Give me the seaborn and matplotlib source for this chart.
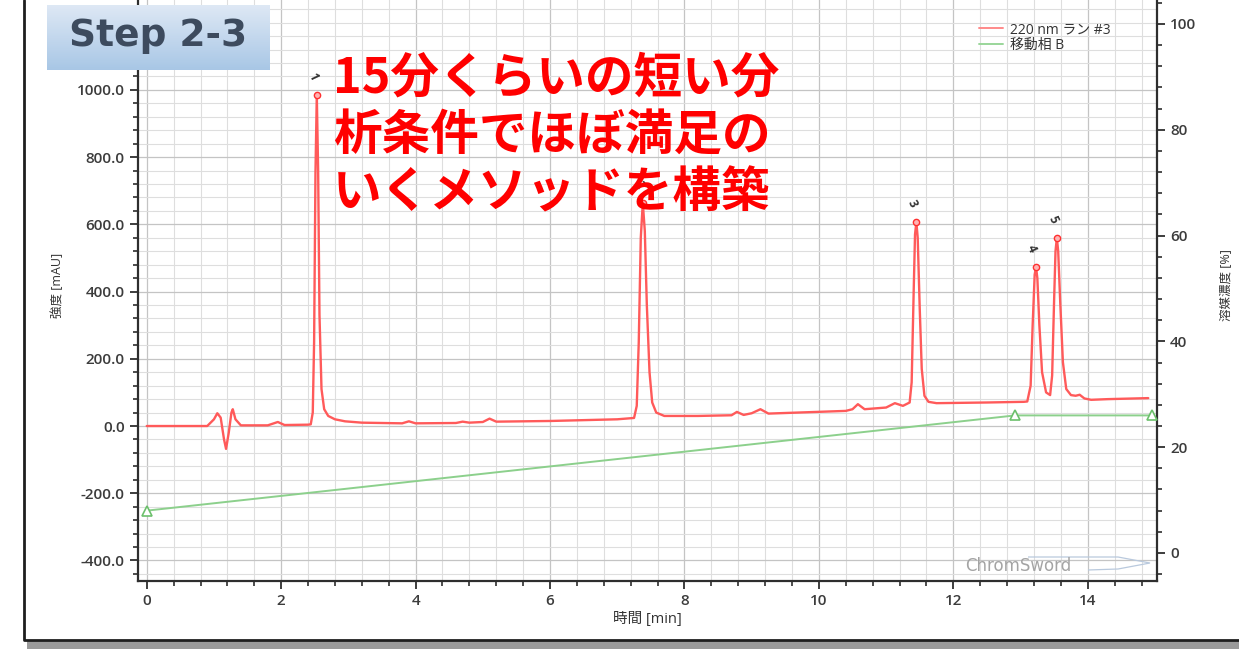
import matplotlib
matplotlib.use("Agg")
import numpy as np
import pandas as pd
import matplotlib.pyplot as plt
import seaborn as sns
from matplotlib.ticker import MultipleLocator, FormatStrFormatter
from matplotlib.patches import Rectangle, Polygon
from matplotlib.lines import Line2D

# ============================
# Datos leídos del cromatograma
# ============================
uv_time = [0.0, 0.9, 1.0, 1.05, 1.1, 1.15, 1.18, 1.22, 1.26, 1.28, 1.32, 1.4,
           1.8, 1.95, 2.05, 2.4, 2.44, 2.47, 2.49, 2.51, 2.53, 2.55, 2.57,
           2.6, 2.64, 2.7, 2.8, 2.95, 3.2, 3.8, 3.9, 4.0, 4.6, 4.7, 4.8, 5.0,
           5.1, 5.2, 6.0, 7.0, 7.25, 7.29, 7.32, 7.35, 7.38, 7.41, 7.44, 7.48,
           7.52, 7.58, 7.7, 8.2, 8.7, 8.78, 8.88, 9.0, 9.13, 9.25, 10.4, 10.5,
           10.58, 10.68, 11.0, 11.13, 11.25, 11.35, 11.38, 11.41, 11.43, 11.45,
           11.47, 11.5, 11.53, 11.57, 11.63, 11.75, 12.5, 13.05, 13.1, 13.15,
           13.18, 13.21, 13.23, 13.25, 13.28, 13.32, 13.38, 13.44, 13.47, 13.5,
           13.52, 13.54, 13.56, 13.59, 13.63, 13.68, 13.75, 13.82, 13.88,
           13.95, 14.05, 14.3, 14.9]
uv_mau = [0, 0, 20, 38, 25, -40, -68, -20, 40, 50, 20, 2,
          2, 12, 3, 4, 5, 40, 250, 750, 985, 760, 330,
          110, 50, 30, 20, 14, 10, 8, 14, 8, 9, 13, 10, 12,
          22, 13, 15, 20, 24, 60, 250, 560, 664, 580, 360, 160,
          70, 40, 30, 30, 32, 42, 33, 38, 50, 37, 45, 50,
          65, 50, 55, 68, 60, 70, 130, 400, 570, 607,
          560, 350, 170, 90, 72, 68, 70, 72, 73, 120,
          300, 450, 473, 440, 300, 160, 100, 92, 150, 380,
          520, 560, 520, 370, 190, 110, 92, 90, 93,
          82, 78, 80, 83]

peak_id = ["1", "2", "3", "4", "5"]
peak_time = [2.53, 7.38, 11.45, 13.23, 13.54]
peak_mau = [985, 664, 607, 473, 560]

grad_time = [0.0, 12.92, 14.95]
grad_b = [8.0, 26.0, 26.0]

uv = pd.DataFrame({"t": uv_time, "mau": uv_mau})
grad = pd.DataFrame({"t": grad_time, "b": grad_b})

W, H = 1239, 649
def fx(px): return px / W
def fy(py): return 1 - py / H

sns.set_theme(style="white")
plt.rcParams["font.family"] = ["Open Sans", "Noto Sans CJK JP", "DejaVu Sans"]

tick_col = "#3c3c3c"
red_line = "#ff5a5a"
green_line = "#8cd08c"

fig = plt.figure(figsize=(12.39, 6.49), dpi=100)
fig.patch.set_facecolor("white")
ax = fig.add_axes([fx(138), fy(581), fx(1157) - fx(138), fy(-11) - fy(581)])
ax.set_facecolor("white")

# rejilla
ax.set_xticks(range(0, 15, 2))
ax.xaxis.set_minor_locator(MultipleLocator(0.4))
ax.set_yticks(range(-400, 1001, 200))
ax.yaxis.set_minor_locator(MultipleLocator(40))
ax.grid(which="major", color="#c4c4c4", linewidth=0.9)
ax.grid(which="minor", color="#dedede", linewidth=0.8)
ax.set_axisbelow(True)

sns.lineplot(data=uv, x="t", y="mau", ax=ax, color=red_line, linewidth=1.7,
             estimator=None, sort=False, legend=False)
ax.plot(peak_time, peak_mau, linestyle="none", marker="o", markersize=4.5,
        markerfacecolor="#ffb3b3", markeredgecolor="#ff3030", zorder=4)
for lab, t, m in zip(peak_id, peak_time, peak_mau):
    ax.annotate(lab, (t, m), xytext=(-3, 13), textcoords="offset points",
                ha="center", va="center", rotation=-65, fontsize=8.5,
                fontweight="bold", color="#333333", zorder=4)

ax.set_xlim(-0.13, 15.03)
ax.set_ylim(-461, 1300)
ax.yaxis.set_major_formatter(FormatStrFormatter("%.1f"))

ax2 = ax.twinx()
sns.lineplot(data=grad, x="t", y="b", ax=ax2, color=green_line, linewidth=1.4,
             estimator=None, sort=False, legend=False)
ax2.plot(grad_time, grad_b, linestyle="none", marker="^", markersize=6.5,
         markerfacecolor="white", markeredgecolor="#6cc06c", markeredgewidth=1.2,
         zorder=4, clip_on=False)
ax2.set_ylim(-5.3, 106.6)
ax2.set_yticks(range(0, 101, 20))
ax2.yaxis.set_minor_locator(MultipleLocator(4))

# ejes y ticks
for a in (ax, ax2):
    for s in a.spines.values():
        s.set_visible(False)
ax.spines["left"].set_visible(True)
ax.spines["bottom"].set_visible(True)
ax2.spines["right"].set_visible(True)
for s in (ax.spines["left"], ax.spines["bottom"], ax2.spines["right"]):
    s.set_color("#2e2e2e")
    s.set_linewidth(1.6)

ax.tick_params(axis="both", which="major", direction="out", length=6, width=1.3,
               color="#2e2e2e", labelcolor=tick_col, labelsize=11,
               left=True, bottom=True)
ax.tick_params(axis="both", which="minor", direction="out", length=3.5,
               width=1.2, color="#2e2e2e", left=True, bottom=True)
ax2.tick_params(axis="y", which="major", direction="out", length=6, width=1.3,
                color="#2e2e2e", labelcolor=tick_col, labelsize=11, right=True)
ax2.tick_params(axis="y", which="minor", direction="out", length=3.5, width=1.2,
                color="#2e2e2e", right=True)
for lab in ax.get_xticklabels() + ax.get_yticklabels() + ax2.get_yticklabels():
    lab.set_fontweight("semibold")

ax.set_xlabel("時間 [min]", fontsize=10.5, color="#333333", labelpad=3)
ax.set_ylabel("強度 [mAU]", fontsize=9, color="#333333", labelpad=9)
ax2.set_ylabel("溶媒濃度 [%]", fontsize=9, color="#333333", labelpad=16,
               rotation=90)

# leyenda
handles = [Line2D([], [], color="#ff8a8a", lw=1.4),
           Line2D([], [], color="#9ad69a", lw=1.4)]
ax.legend(handles, ["220 nm ラン #3", "移動相 B"], loc="upper left",
          bbox_to_anchor=(fx(972), fy(15)), bbox_transform=fig.transFigure,
          frameon=False, fontsize=10, handlelength=1.7, labelspacing=0.05,
          handletextpad=0.5, borderpad=0, labelcolor="#333333")

# marca de agua ChromSword
fig.text(fx(965), fy(566), "ChromSword", fontsize=12, color="#a4a4a4",
         ha="left", va="center", family="DejaVu Sans")
sword = [(fx(1028), fy(557)), (fx(1118), fy(557)), (fx(1150), fy(563)),
         (fx(1118), fy(569)), (fx(1088), fy(570))]
fig.add_artist(Polygon(sword, closed=False, fill=False, edgecolor="#b9c9dd",
                       linewidth=0.9, transform=fig.transFigure))

# texto rojo
red_lines = ["15分くらいの短い分", "析条件でほぼ満足の", "いくメソッドを構築"]
for txt, py in zip(red_lines, [78, 135, 193]):
    fig.text(fx(333), fy(py), txt, fontsize=35, fontweight="bold",
             color="#ff0000", ha="left", va="center", zorder=10,
             family=["Noto Sans CJK JP", "DejaVu Sans"])

# recuadro "Step 2-3"
box = fig.add_axes([fx(47), fy(70), fx(270) - fx(47), fy(5) - fy(70)])
grad_img = np.linspace(0, 1, 64).reshape(-1, 1)
top_c = np.array([0.87, 0.91, 0.96])
bot_c = np.array([0.66, 0.78, 0.90])
img = top_c[None, None, :] * (1 - grad_img[..., None]) + bot_c[None, None, :] * grad_img[..., None]
box.imshow(img, aspect="auto", extent=(0, 1, 0, 1))
box.set_xlim(0, 1)
box.set_ylim(0, 1)
box.axis("off")
box.text(0.5, 0.52, "Step 2-3", fontsize=27, fontweight="bold",
         color="#3d4b5e", ha="center", va="center", family="DejaVu Sans",
         transform=box.transAxes)

# marco exterior y sombra
fig.add_artist(Rectangle((fx(27), 0), 1, 8 / H, transform=fig.transFigure,
                         facecolor="#9a9a9a", edgecolor="none"))
fig.add_artist(Line2D([fx(24), fx(24), 1.0], [1.0, fy(640), fy(640)],
                      color="#1e1e1e", linewidth=2.0, transform=fig.transFigure))

fig.savefig("out.png", dpi=100, facecolor="white")
